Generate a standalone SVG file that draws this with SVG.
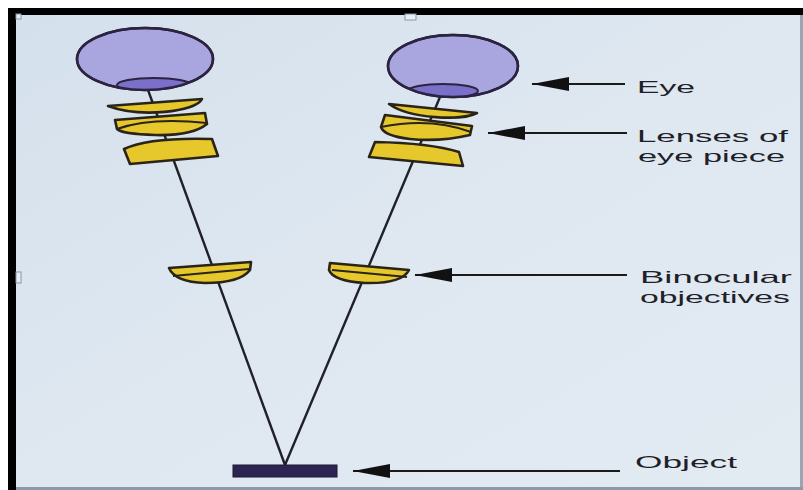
<svg xmlns="http://www.w3.org/2000/svg" width="803" height="490" viewBox="0 0 803 490">
  <style>
    .eye { fill: #a9a5de; stroke: #2b2340; stroke-width: 2.5; }
    .pupil { fill: #7a70c9; stroke: #2b2340; stroke-width: 2; }
    .lens { fill: #e6c72c; stroke: #2a2418; stroke-width: 2.6; stroke-linejoin: round; }
    .lens-inner { fill: none; stroke: #2a2418; stroke-width: 2.2; }
    .ray { stroke: #202028; stroke-width: 2.4; fill: none; }
    .pointer { stroke: #1a1a1a; stroke-width: 1.8; fill: none; marker-start: url(#head); }
    .label { font-family: "Liberation Sans", Arial, sans-serif; font-size: 17px; fill: #1f1f29; }
    .handle { fill: #e6eef6; stroke: #8a96a3; stroke-width: 1; }
  </style>
  <defs>
    <linearGradient id="paper" x1="0" y1="0" x2="1" y2="1">
      <stop offset="0" stop-color="#d4e0ec"/>
      <stop offset="0.5" stop-color="#dfe8f1"/>
      <stop offset="1" stop-color="#e2eaf2"/>
    </linearGradient>
    <marker id="head" viewBox="0 0 38 14" refX="0" refY="7" markerWidth="38" markerHeight="14" markerUnits="userSpaceOnUse" orient="auto">
      <path d="M0,7 L37,0 L37,14 Z" fill="#111"/>
    </marker>
    <clipPath id="clip-eye-left"><ellipse cx="145" cy="59" rx="68" ry="31"/></clipPath>
    <clipPath id="clip-eye-right"><ellipse cx="453" cy="66" rx="65" ry="31"/></clipPath>
  </defs>

  <!-- frame and paper -->
  <rect x="0" y="0" width="803" height="490" fill="#ffffff"/>
  <rect x="8" y="8" width="795" height="482" fill="#000000"/>
  <rect x="16" y="15" width="785" height="472" fill="url(#paper)"/>
  <rect x="16" y="487" width="787" height="3" fill="#8f9aa6"/>
  <rect x="800" y="15" width="3" height="472" fill="#9aa5b0"/>
  <rect class="handle" x="405" y="14" width="11" height="6"/>
  <rect class="handle" x="16" y="272" width="5" height="11"/>
  <rect class="handle" x="16" y="14" width="5" height="5"/>

  <!-- light rays and label pointers -->
  <g id="connectors">
    <line class="ray" x1="148" y1="90" x2="285" y2="465"/>
    <line class="ray" x1="440" y1="97" x2="285" y2="465"/>
    <line class="pointer" x1="532" y1="84" x2="625" y2="84"/>
    <line class="pointer" x1="488" y1="133" x2="627" y2="133"/>
    <line class="pointer" x1="415" y1="275" x2="627" y2="275"/>
    <line class="pointer" x1="353" y1="471" x2="620" y2="471"/>
  </g>

  <g id="eye-left">
    <ellipse class="eye" cx="145" cy="59" rx="68" ry="31"/>
    <ellipse class="pupil" cx="154" cy="85" rx="37" ry="7" clip-path="url(#clip-eye-left)"/>
    <ellipse cx="145" cy="59" rx="68" ry="31" fill="none" stroke="#2b2340" stroke-width="2.5"/>
  </g>

  <g id="eye-right">
    <ellipse class="eye" cx="453" cy="66" rx="65" ry="31"/>
    <ellipse class="pupil" cx="443" cy="91" rx="35" ry="7" clip-path="url(#clip-eye-right)"/>
    <ellipse cx="453" cy="66" rx="65" ry="31" fill="none" stroke="#2b2340" stroke-width="2.5"/>
  </g>

  <g id="eyepiece-left">
    <path class="lens" d="M108,106 L202,99 C196,112 140,118 108,106 Z"/>
    <path class="lens" d="M115,120 L205,113 L207,124 Q192,136 155,135 Q122,134 117,129 Z"/>
    <path class="lens-inner" d="M117,129 Q150,117 207,123"/>
    <path class="lens" d="M124,149 Q150,137 212,139 L218,156 L130,164 Z"/>
  </g>

  <g id="eyepiece-right">
    <path class="lens" d="M389,104 L477,113 C462,121 410,119 389,104 Z"/>
    <path class="lens" d="M385,115 L472,126 L470,135 Q440,142 410,139 Q384,136 381,127 Z"/>
    <path class="lens-inner" d="M381,127 Q430,117 471,132"/>
    <path class="lens" d="M375,142 Q430,143 459,152 L463,166 L369,157 Z"/>
  </g>

  <g id="objective-left">
    <path class="lens" d="M169,268 L251,262 L250,270 Q240,283 205,283 Q175,282 169,268 Z"/>
    <path class="lens-inner" d="M173,276 L249,269"/>
  </g>

  <g id="objective-right">
    <path class="lens" d="M330,263 L409,270 Q402,284 365,283 Q333,281 329,270 Z"/>
    <path class="lens-inner" d="M332,270 L407,277"/>
  </g>

  <g id="object">
    <rect x="233" y="465" width="104" height="12" fill="#2c2452" stroke="#1c1830" stroke-width="1"/>
  </g>

  <g id="labels">
    <text class="label" x="637" y="93" textLength="58" lengthAdjust="spacingAndGlyphs">Eye</text>
    <text class="label" x="637" y="142" textLength="151" lengthAdjust="spacingAndGlyphs">Lenses of</text>
    <text class="label" x="638" y="162" textLength="147" lengthAdjust="spacingAndGlyphs">eye piece</text>
    <text class="label" x="640" y="283" textLength="152" lengthAdjust="spacingAndGlyphs">Binocular</text>
    <text class="label" x="640" y="303" textLength="150" lengthAdjust="spacingAndGlyphs">objectives</text>
    <text class="label" x="635" y="468" textLength="102" lengthAdjust="spacingAndGlyphs">Object</text>
  </g>
</svg>
